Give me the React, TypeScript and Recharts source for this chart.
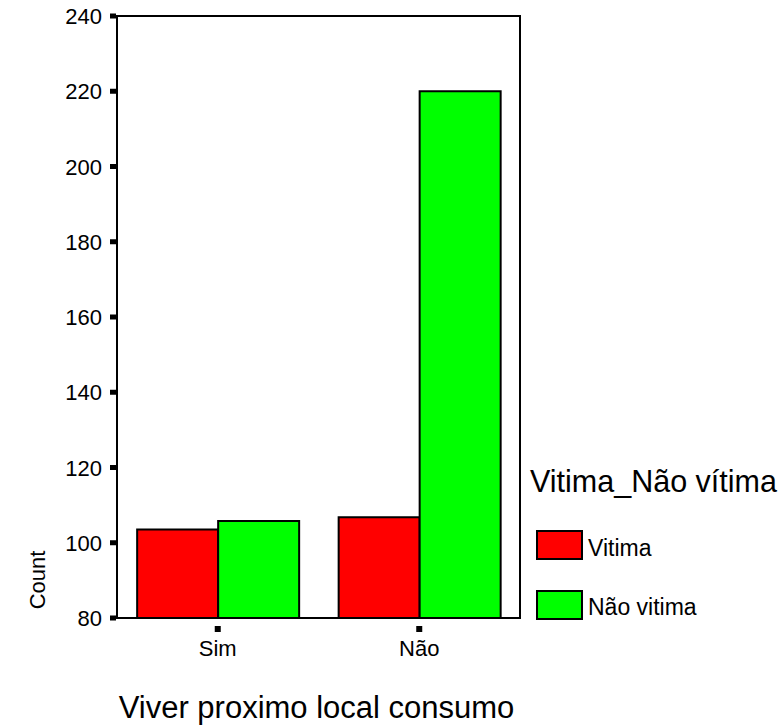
import React from "react";
import { BarChart, Bar, XAxis, YAxis, ReferenceArea } from "recharts";

const categories = ["Sim", "Não"];
const vitima = [103.5, 106.8];
const naoVitima = [105.8, 220];
const yTicks = [80, 100, 120, 140, 160, 180, 200, 220, 240];
const seriesNames = ["Vitima", "Não vitima"];
const seriesColors = ["#ff0000", "#00ff00"];
const legendTitle = "Vitima_Não vítima";
const xTitle = "Viver proximo local consumo";
const yTitle = "Count";

const data = categories.map((c, i) => ({ cat: c, v: vitima[i], nv: naoVitima[i] }));

const FONT = "'Liberation Sans', Arial, sans-serif";

const YTick = (props: any) => {
  const { x, y, payload } = props;
  return (
    <g>
      <rect x={x + 1} y={y - 2.5} width={6} height={5} fill="#000" />
      <text x={x - 7} y={y} dy={8} textAnchor="end" fontFamily={FONT} fontSize={22} fill="#000">
        {payload.value}
      </text>
    </g>
  );
};

const XTick = (props: any) => {
  const { x, y, payload } = props;
  return (
    <g>
      <rect x={x - 3} y={y} width={6} height={6} fill="#000" />
      <text x={x} y={y + 30} textAnchor="middle" fontFamily={FONT} fontSize={22} fill="#000">
        {payload.value}
      </text>
    </g>
  );
};

const LegendBox = () => (
  <svg
    width={258}
    height={180}
    style={{ display: "block", position: "absolute", left: 526, top: 450 }}
  >
    <text x={4} y={42} fontFamily={FONT} fontSize={30.5} fill="#000">
      {legendTitle}
    </text>
    {seriesNames.map((n, i) => (
      <g key={n}>
        <rect x={11} y={81 + i * 60} width={45} height={28} fill={seriesColors[i]} stroke="#000" strokeWidth={2} />
        <text x={62} y={106 + i * 59} fontFamily={FONT} fontSize={23} fill="#000">
          {n}
        </text>
      </g>
    ))}
  </svg>
);

const YLabel = (props: any) => {
  const { viewBox } = props;
  const cx = viewBox.x + 45;
  const cy = viewBox.y + viewBox.height - 38;
  return (
    <text
      x={cx}
      y={cy}
      transform={`rotate(-90, ${cx}, ${cy})`}
      textAnchor="middle"
      fontFamily={FONT}
      fontSize={22}
      fill="#000"
    >
      {yTitle}
    </text>
  );
};

const XLabel = (props: any) => {
  const { viewBox } = props;
  const cx = viewBox.x + viewBox.width / 2 - 2;
  const cy = viewBox.y + 100;
  return (
    <text x={cx} y={cy} textAnchor="middle" fontFamily={FONT} fontSize={31} fill="#000">
      {xTitle}
    </text>
  );
};

export default function App() {
  return (
    <div style={{ position: "absolute", left: 0, top: 0, width: 784, height: 727, background: "#fff" }}>
      <BarChart
        width={784}
        height={727}
        data={data}
        margin={{ top: 16, right: 264, bottom: 0, left: 0 }}
        barCategoryGap="10%"
        barGap={0}
      >
        <XAxis
          dataKey="cat"
          height={109}
          axisLine={{ stroke: "#000", strokeWidth: 2 }}
          tickLine={false}
          tick={<XTick />}
          label={<XLabel />}
        />
        <YAxis
          width={117}
          domain={[80, 240]}
          ticks={yTicks}
          interval={0}
          axisLine={{ stroke: "#000", strokeWidth: 2 }}
          tickLine={false}
          tick={<YTick />}
          label={<YLabel />}
        />
        <ReferenceArea y1={80} y2={240} fill="none" stroke="#000" strokeWidth={2} strokeOpacity={1} fillOpacity={0} ifOverflow="visible" />
        <Bar dataKey="v" name={seriesNames[0]} fill={seriesColors[0]} stroke="#000" strokeWidth={2} isAnimationActive={false} />
        <Bar dataKey="nv" name={seriesNames[1]} fill={seriesColors[1]} stroke="#000" strokeWidth={2} isAnimationActive={false} />
      </BarChart>
      <LegendBox />
    </div>
  );
}
